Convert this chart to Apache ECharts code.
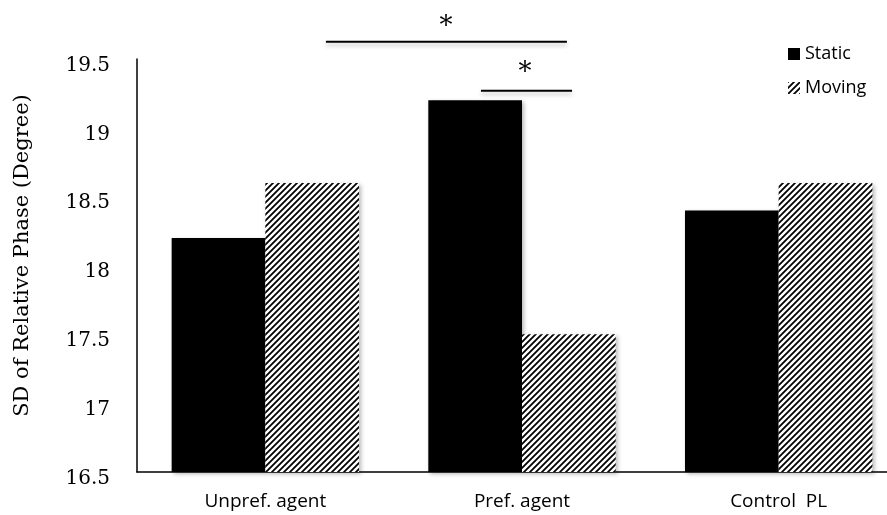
<!DOCTYPE html>
<html><head><meta charset="utf-8">
<script src="https://cdn.jsdelivr.net/npm/echarts@6/dist/echarts.min.js"></script>
<style>html,body{margin:0;padding:0;background:#fff}#c{width:887px;height:515px}</style>
</head><body><div id="c"></div>
<script>
const categories = ['Unpref. agent', 'Pref. agent', 'Control  PL'];
const staticValues = [18.2, 19.2, 18.4];
const movingValues = [18.6, 17.5, 18.6];
const seriesNames = ['Static', 'Moving'];
const yMin = 16.5, yMax = 19.5, yInterval = 0.5;
const yTitle = 'SD of Relative Phase (Degree)';
// significance brackets, x in category-index units, y in data units
const sigBrackets = [
  { x0: 0.236, x1: 1.175, y: 19.625, starX: 0.704, starY: 19.73, text: '*' },
  { x0: 0.84, x1: 1.195, y: 19.27, starX: 1.012, starY: 19.40, text: '*' }
];

function makeHatch() {
  const c = document.createElement('canvas');
  c.width = 6; c.height = 6;
  const g = c.getContext('2d');
  g.fillStyle = '#fff'; g.fillRect(0, 0, 6, 6);
  g.strokeStyle = '#000'; g.lineWidth = 1.8;
  g.beginPath();
  g.moveTo(-1, 7); g.lineTo(7, -1);
  g.moveTo(-4, 4); g.lineTo(4, -4);
  g.moveTo(2, 10); g.lineTo(10, 2);
  g.stroke();
  return c;
}
const hatch = { image: makeHatch(), repeat: 'repeat' };
const shadow = { shadowColor: 'rgba(0,0,0,0.28)', shadowBlur: 4, shadowOffsetX: 2, shadowOffsetY: 2 };

const chart = echarts.init(document.getElementById('c'), null, { renderer: 'canvas' });
chart.setOption({
  animation: false,
  backgroundColor: '#fff',
  grid: { left: 137, top: 59, height: 413, width: 770, outerBoundsMode: 'none', containLabel: false },
  legend: {
    data: seriesNames, orient: 'vertical', left: 783, top: 40,
    itemWidth: 12, itemHeight: 12, itemGap: 16, icon: 'rect',
    textStyle: { fontFamily: 'Open Sans', fontSize: 18, color: '#000' }
  },
  xAxis: {
    type: 'category', data: categories,
    axisLine: { lineStyle: { color: '#000', width: 1.5 } },
    axisTick: { show: false },
    axisLabel: { color: '#000', fontFamily: 'Open Sans', fontSize: 19, margin: 20 }
  },
  yAxis: {
    type: 'value', min: yMin, max: yMax, interval: yInterval,
    axisLine: { show: true, lineStyle: { color: '#000', width: 1.5 } },
    axisTick: { show: false },
    splitLine: { show: false },
    axisLabel: { color: '#000', fontFamily: 'DejaVu Serif', fontSize: 20, margin: 27, verticalAlign: 'top', lineHeight: 13 }
  },
  series: [
    { name: seriesNames[0], type: 'bar', data: staticValues, barGap: '0%', barCategoryGap: '27%',
      itemStyle: Object.assign({ color: '#000' }, shadow) },
    { name: seriesNames[1], type: 'bar', data: movingValues, barGap: '0%', barCategoryGap: '27%',
      itemStyle: Object.assign({ color: hatch }, shadow) }
  ]
});

function drawAnnotations() {
  const c0 = chart.convertToPixel({ xAxisIndex: 0 }, 0);
  const c1 = chart.convertToPixel({ xAxisIndex: 0 }, 1);
  const step = c1 - c0;
  const px = v => c0 + v * step;
  const py = v => chart.convertToPixel({ yAxisIndex: 0 }, v);
  const els = [];
  sigBrackets.forEach(b => {
    els.push({ type: 'line', silent: true,
      shape: { x1: px(b.x0), y1: py(b.y), x2: px(b.x1), y2: py(b.y) },
      style: { stroke: '#000', lineWidth: 2, shadowColor: 'rgba(0,0,0,0.25)', shadowBlur: 4, shadowOffsetY: 3 } });
    els.push({ type: 'text', silent: true, x: px(b.starX), y: py(b.starY),
      style: { text: b.text, fontFamily: 'DejaVu Serif', fontSize: 26, fill: '#000', align: 'center', verticalAlign: 'middle' } });
  });
  const gb = chart.convertToPixel({ yAxisIndex: 0 }, yMin);
  const gt = chart.convertToPixel({ yAxisIndex: 0 }, yMax);
  els.push({ type: 'text', silent: true, x: 23, y: (gb + gt) / 2 - 10, rotation: Math.PI / 2,
    style: { text: yTitle, fontFamily: 'DejaVu Serif', fontSize: 21, fill: '#000', align: 'center', verticalAlign: 'middle' } });
  chart.setOption({ graphic: els });
}
drawAnnotations();
</script>
</body></html>
